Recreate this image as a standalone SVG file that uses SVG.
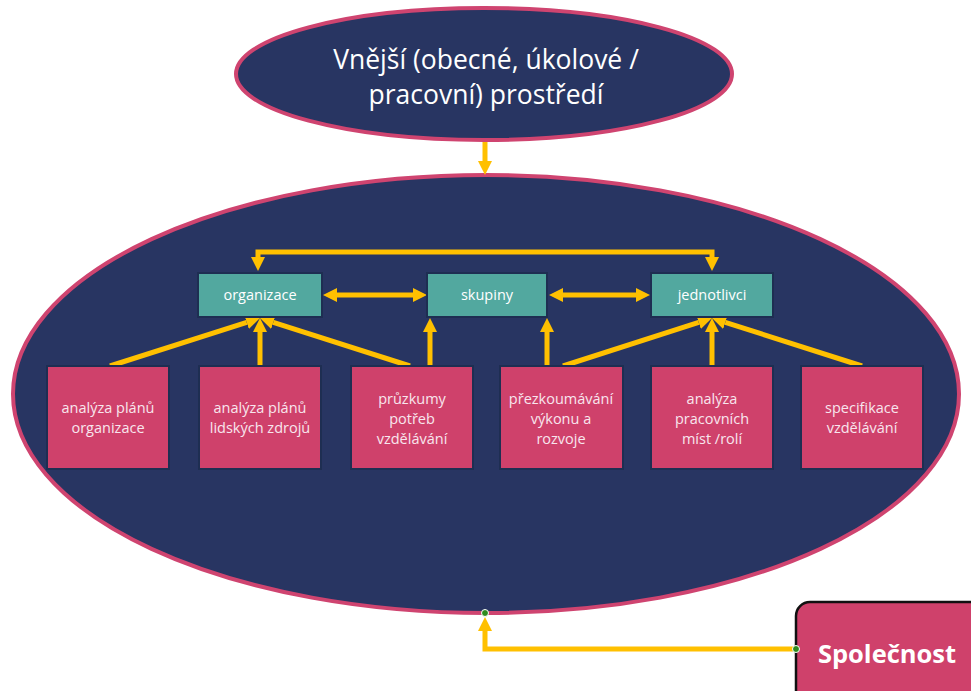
<svg xmlns="http://www.w3.org/2000/svg" width="971" height="691" viewBox="0 0 971 691">
<defs>
<style>
.ell{fill:#283562;stroke:#CF4470;stroke-width:4}
.teal{fill:#52A89F;stroke:#1E2E52;stroke-width:2}
.pink{fill:#CF416B;stroke:#1E2E52;stroke-width:2}
.con{fill:none;stroke:#FFC000;stroke-width:5}
.t{font-family:"Open Sans","Liberation Sans",Arial,sans-serif;fill:#FFFFFF;text-anchor:middle}
.tb{font-size:14.5px;fill:#F8E6EE}
.tt{font-size:14.5px}
.dot{fill:#2E8B1E;stroke:#FFFFFF;stroke-width:1}
</style>
<marker id="ah" viewBox="0 0 14 14" refX="0" refY="7" markerWidth="14" markerHeight="14" markerUnits="userSpaceOnUse" orient="auto-start-reverse">
<path d="M0,0 L14,7 L0,14 Z" fill="#FFC000"/>
</marker>
</defs>
<rect width="971" height="691" fill="#FFFFFF"/>

<g id="outer">
<ellipse class="ell" cx="486" cy="394" rx="473" ry="219"/>
</g>

<g id="external">
<ellipse class="ell" cx="484" cy="74" rx="248" ry="66"/>
<text class="t" x="486" y="69" font-size="26.5">Vnější (obecné, úkolové /</text>
<text class="t" x="486" y="104" font-size="26.5">pracovní) prostředí</text>
</g>

<g id="connectors">
<path class="con" d="M485,142 V161" marker-end="url(#ah)"/>
<path class="con" stroke-width="4" d="M258,257 V252 H712 V257" marker-start="url(#ah)" marker-end="url(#ah)"/>
<path class="con" d="M337,295 H413" marker-start="url(#ah)" marker-end="url(#ah)"/>
<path class="con" d="M563,295 H636" marker-start="url(#ah)" marker-end="url(#ah)"/>
<path class="con" d="M110,366 L246.7,322.3" marker-end="url(#ah)"/>
<path class="con" d="M260,366 V332" marker-end="url(#ah)"/>
<path class="con" d="M410,366 L273.3,322.3" marker-end="url(#ah)"/>
<path class="con" d="M430,366 V332" marker-end="url(#ah)"/>
<path class="con" d="M547,366 V332" marker-end="url(#ah)"/>
<path class="con" d="M563,366 L698.7,322.3" marker-end="url(#ah)"/>
<path class="con" d="M712,366 V332" marker-end="url(#ah)"/>
<path class="con" d="M862,366 L725.3,322.3" marker-end="url(#ah)"/>
<path class="con" d="M796,649 H485 V631" marker-end="url(#ah)"/>
</g>

<g id="organizace">
<rect class="teal" x="198" y="273" width="124" height="44"/>
<text class="t tt" x="260" y="300">organizace</text>
</g>
<g id="skupiny">
<rect class="teal" x="427" y="273" width="120" height="44"/>
<text class="t tt" x="487" y="300">skupiny</text>
</g>
<g id="jednotlivci">
<rect class="teal" x="651" y="273" width="122" height="44"/>
<text class="t tt" x="712" y="300">jednotlivci</text>
</g>

<g id="box1">
<rect class="pink" x="47" y="366" width="122" height="103"/>
<text class="t tb" x="108" y="413">analýza plánů</text>
<text class="t tb" x="108" y="433">organizace</text>
</g>
<g id="box2">
<rect class="pink" x="199" y="366" width="122" height="103"/>
<text class="t tb" x="260" y="413">analýza plánů</text>
<text class="t tb" x="260" y="433">lidských zdrojů</text>
</g>
<g id="box3">
<rect class="pink" x="351" y="366" width="122" height="103"/>
<text class="t tb" x="412" y="404">průzkumy</text>
<text class="t tb" x="412" y="424">potřeb</text>
<text class="t tb" x="412" y="444">vzdělávání</text>
</g>
<g id="box4">
<rect class="pink" x="500" y="366" width="123" height="103"/>
<text class="t tb" x="561" y="404">přezkoumávání</text>
<text class="t tb" x="561" y="424">výkonu a</text>
<text class="t tb" x="561" y="444">rozvoje</text>
</g>
<g id="box5">
<rect class="pink" x="651" y="366" width="122" height="103"/>
<text class="t tb" x="712" y="404">analýza</text>
<text class="t tb" x="712" y="424">pracovních</text>
<text class="t tb" x="712" y="444">míst /rolí</text>
</g>
<g id="box6">
<rect class="pink" x="801" y="366" width="122" height="103"/>
<text class="t tb" x="862" y="413">specifikace</text>
<text class="t tb" x="862" y="433">vzdělávání</text>
</g>

<g id="spolecnost">
<rect x="796" y="602" width="200" height="110" rx="14" fill="#CF416B" stroke="#111111" stroke-width="2.5"/>
<text class="t" x="887" y="663" font-size="25.5" font-weight="bold">Společnost</text>
</g>

<circle class="dot" cx="485" cy="613" r="3.5"/>
<circle class="dot" cx="796" cy="649" r="3.5"/>
</svg>
